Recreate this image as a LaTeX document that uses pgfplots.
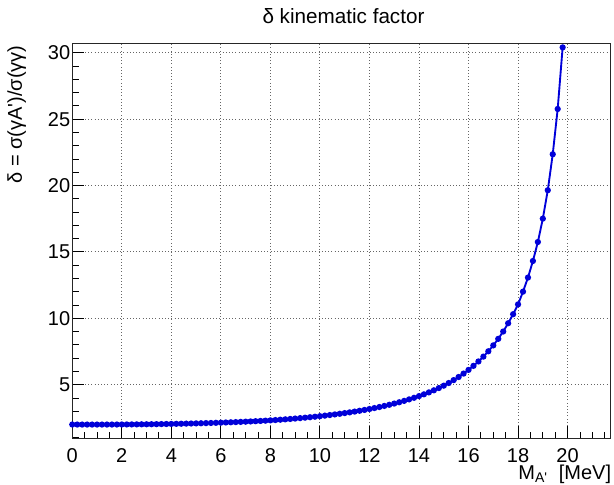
\documentclass[border=0pt]{standalone}
\usepackage{fontspec}
\setmainfont{Liberation Sans}[Ligatures=TeXOff]
\usepackage{pgfplots}
\pgfplotsset{compat=1.18}
\definecolor{rootblue}{rgb}{0.0,0.0,0.85}
\begin{document}
\begin{tikzpicture}
\useasboundingbox (0,0) rectangle (460.5pt,363.75pt);
\begin{axis}[
  at={(54.2pt,35pt)}, anchor=south west,
  scale only axis, width=404pt, height=296pt,
  xmin=0, xmax=21.75, ymin=0.96, ymax=30.69,
  xtick={0,2,...,22}, ytick={0,5,...,30},
  minor x tick num=3, minor y tick num=4,
  tick align=inside, xtick pos=bottom, ytick pos=left,
  major tick length=9pt, minor tick length=5pt,
  grid=major, grid style={dotted, line width=0.7pt, black!60},
  axis line style={line width=0.8pt, black!85},
  tick style={line width=0.7pt, black},
  /pgf/number format/assume math mode=true,
  ticklabel style={font=\fontsize{15}{18}\selectfont},
  xticklabel style={yshift=-4pt},
  yticklabel style={xshift=2pt},
  title={δ kinematic factor},
  title style={at={(axis description cs:0.5035,1.031)}, anchor=base, font=\fontsize{15.5}{18}\selectfont},
  xlabel={M\textsubscript{A'}\ \ [MeV]},
  xlabel style={at={(axis description cs:1.009,-0.105)}, anchor=base east, font=\fontsize{15}{18}\selectfont},
  ylabel={δ = σ(γA')/σ(γγ)},
  ylabel style={at={(axis description cs:-0.0934,1.007)}, anchor=base east, font=\fontsize{15}{18}\selectfont},
]
\addplot[color=rootblue, line width=1.4pt, mark=*, mark size=1.6pt, mark options={fill=rootblue}] coordinates {
(0.0,2.0000)(0.2,1.9987)(0.4,1.9977)(0.6,1.9971)(0.8,1.9969)
(1.0,1.9970)(1.2,1.9975)(1.4,1.9984)(1.6,1.9995)(1.8,2.0011)
(2.0,2.0031)(2.2,2.0055)(2.4,2.0084)(2.6,2.0115)(2.8,2.0151)
(3.0,2.0191)(3.2,2.0236)(3.4,2.0285)(3.6,2.0339)(3.8,2.0398)
(4.0,2.0461)(4.2,2.0529)(4.4,2.0603)(4.6,2.0683)(4.8,2.0768)
(5.0,2.0858)(5.2,2.0956)(5.4,2.1059)(5.6,2.1169)(5.8,2.1286)
(6.0,2.1410)(6.2,2.1541)(6.4,2.1681)(6.6,2.1829)(6.8,2.1985)
(7.0,2.2150)(7.2,2.2325)(7.4,2.2510)(7.6,2.2704)(7.8,2.2911)
(8.0,2.3128)(8.2,2.3375)(8.4,2.3636)(8.6,2.3910)(8.8,2.4199)
(9.0,2.4503)(9.2,2.4823)(9.4,2.5161)(9.6,2.5517)(9.8,2.5891)
(10.0,2.6287)(10.2,2.6704)(10.4,2.7144)(10.6,2.7607)(10.8,2.8098)
(11.0,2.8615)(11.2,2.9162)(11.4,2.9740)(11.6,3.0352)(11.8,3.0999)
(12.0,3.1684)(12.2,3.2411)(12.4,3.3181)(12.6,3.4000)(12.8,3.4868)
(13.0,3.5791)(13.2,3.6773)(13.4,3.7818)(13.6,3.8934)(13.8,4.0125)
(14.0,4.1397)(14.2,4.2758)(14.4,4.4216)(14.6,4.5781)(14.8,4.7462)
(15.0,4.9273)(15.2,5.1279)(15.4,5.3455)(15.6,5.5807)(15.8,5.8367)
(16.0,6.1152)(16.2,6.4184)(16.4,6.7506)(16.6,7.1156)(16.8,7.5168)
(17.0,7.9613)(17.2,8.4551)(17.4,9.0051)(17.6,9.63)(17.8,10.31)
(18.0,11.05)(18.2,12.01)(18.4,13.07)(18.6,14.32)(18.8,15.75)
(19.0,17.51)(19.2,19.65)(19.4,22.36)(19.6,25.77)(19.8,30.41)
};
\end{axis}
\end{tikzpicture}
\end{document}
